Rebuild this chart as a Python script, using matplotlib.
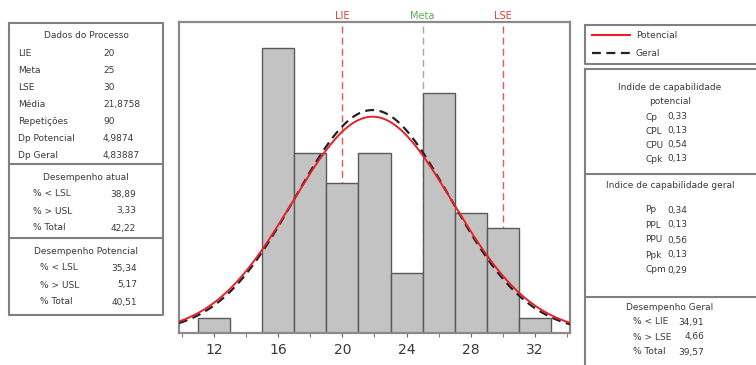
import numpy as np
import matplotlib
matplotlib.use("Agg")
import matplotlib.pyplot as plt

# --- dados do processo ---
lie = 20
meta = 25
lse = 30
media = 21.8758
n_obs = 90
dp_pot = 4.9874
dp_geral = 4.83887

# histogram bins (left edge, width 2) and counts
bin_left = [11, 15, 17, 19, 21, 23, 25, 27, 29, 31]
counts = [1, 19, 12, 10, 12, 4, 16, 8, 7, 1]
bin_w = 2

# panel texts
dados_labels = ["LIE", "Meta", "LSE", "Média", "Repetições", "Dp Potencial", "Dp Geral"]
dados_values = ["20", "25", "30", "21,8758", "90", "4,9874", "4,83887"]
atual_labels = ["% < LSL", "% > USL", "% Total"]
atual_values = ["38,89", "3,33", "42,22"]
pot_labels = ["% < LSL", "% > USL", "% Total"]
pot_values = ["35,34", "5,17", "40,51"]
cp_labels = ["Cp", "CPL", "CPU", "Cpk"]
cp_values = ["0,33", "0,13", "0,54", "0,13"]
pp_labels = ["Pp", "PPL", "PPU", "Ppk", "Cpm"]
pp_values = ["0,34", "0,13", "0,56", "0,13", "0,29"]
geral_labels = ["% < LIE", "% > LSE", "% Total"]
geral_values = ["34,91", "4,66", "39,57"]

W, H = 756, 365
fig = plt.figure(figsize=(W / 100, H / 100), dpi=100)

def px_axes(x0, y0, x1, y1):
    return [x0 / W, 1 - y1 / H, (x1 - x0) / W, (y1 - y0) / H]

# --- main histogram ---
ax = fig.add_axes(px_axes(179, 22, 570, 333))
ax.bar(bin_left, counts, width=bin_w, align="edge", color="#c3c3c3",
       edgecolor="#5a5a5a", linewidth=1.0, zorder=2)

xs = np.linspace(9.8, 34.2, 400)
scale = n_obs * bin_w
pdf_pot = np.exp(-0.5 * ((xs - media) / dp_pot) ** 2) / (dp_pot * np.sqrt(2 * np.pi))
pdf_ger = np.exp(-0.5 * ((xs - media) / dp_geral) ** 2) / (dp_geral * np.sqrt(2 * np.pi))
ax.plot(xs, pdf_ger * scale, color="#222222", linestyle=(0, (4, 2.5)), linewidth=1.6, zorder=3)
ax.plot(xs, pdf_pot * scale, color="#e8202a", linewidth=1.4, zorder=4)

for v, c in [(lie, "#ee5555"), (meta, "#a8a8a8"), (lse, "#ee5555")]:
    ax.axvline(v, color=c, linestyle=(0, (5, 3)), linewidth=1.0, zorder=1)
for v, lb, c in [(lie, "LIE", "#e03a3a"), (meta, "Meta", "#55b055"), (lse, "LSE", "#e03a3a")]:
    ax.annotate(lb, xy=(v, 1), xycoords=("data", "axes fraction"), xytext=(0, 6),
                textcoords="offset pixels", ha="center", va="center", fontsize=7, color=c)

ax.set_xlim(9.8, 34.2)
ax.set_ylim(0, 20.7)
ax.set_yticks([])
ax.set_xticks([12, 16, 20, 24, 28, 32])
ax.set_xticks([10, 14, 18, 22, 26, 30, 34], minor=True)
ax.tick_params(axis="x", which="both", direction="out", length=3, color="#666666",
               labelsize=10, labelcolor="#3a3a3a", pad=4)
for s in ax.spines.values():
    s.set_color("#8a8a8a")
    s.set_linewidth(1.6)

# --- overlay for panels (pixel coordinates) ---
ov = fig.add_axes([0, 0, 1, 1])
ov.set_xlim(0, W)
ov.set_ylim(H, 0)
ov.axis("off")
box_c = "#808080"
txt_c = "#3a3a3a"
fs = 6.5

def rect(x0, y0, x1, y1):
    ov.plot([x0, x1, x1, x0, x0], [y0, y0, y1, y1, y0], color=box_c, linewidth=1.5)

def hline(x0, x1, y):
    ov.plot([x0, x1], [y, y], color=box_c, linewidth=1.5)

def t(x, y, s, ha="left"):
    ov.text(x, y, s, ha=ha, va="center", fontsize=fs, color=txt_c)

# left panel
rect(9, 23, 163, 315)
hline(9, 163, 164)
hline(9, 163, 238)
t(86, 35, "Dados do Processo", "center")
for i, (lb, vl) in enumerate(zip(dados_labels, dados_values)):
    y = 53 + i * 17.1
    t(18, y, lb)
    t(103, y, vl)
t(86, 177, "Desempenho atual", "center")
for i, (lb, vl) in enumerate(zip(atual_labels, atual_values)):
    y = 194 + i * 17
    t(33, y, lb)
    t(136, y, vl, "right")
t(86, 252, "Desempenho Potencial", "center")
for i, (lb, vl) in enumerate(zip(pot_labels, pot_values)):
    y = 268 + i * 17
    t(40, y, lb)
    t(137, y, vl, "right")

# right panel: legend
rect(585, 25, 760, 64)
ov.plot([592, 630], [35, 35], color="#e8202a", linewidth=1.5)
ov.plot([592, 630], [53, 53], color="#222222", linewidth=1.6, linestyle=(0, (4, 2.5)))
t(636, 35, "Potencial")
t(636, 53, "Geral")

# right panel: indices
rect(585, 69, 760, 370)
hline(585, 760, 174)
hline(585, 760, 297)
t(670, 87, "Indide de capabilidade", "center")
t(670, 102, "potencial", "center")
for i, (lb, vl) in enumerate(zip(cp_labels, cp_values)):
    y = 117 + i * 14
    t(645, y, lb)
    t(667, y, vl)
t(670, 186, "Indice de capabilidade geral", "center")
for i, (lb, vl) in enumerate(zip(pp_labels, pp_values)):
    y = 210 + i * 15
    t(645, y, lb)
    t(667, y, vl)
t(670, 307, "Desempenho Geral", "center")
for i, (lb, vl) in enumerate(zip(geral_labels, geral_values)):
    y = 322 + i * 15
    t(633, y, lb)
    t(704, y, vl, "right")

fig.savefig("out.png", dpi=100, facecolor="white")
